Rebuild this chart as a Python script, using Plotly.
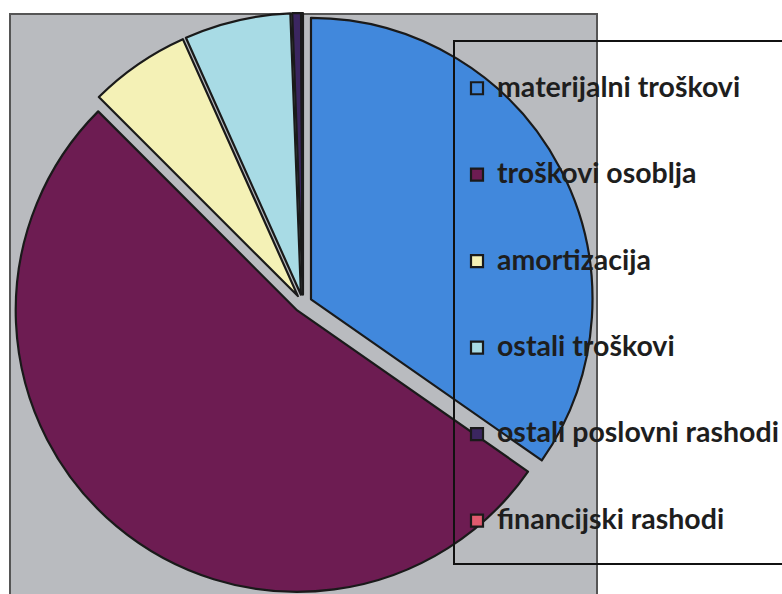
import plotly.graph_objects as go

categories = ["materijalni troškovi", "troškovi osoblja", "amortizacija",
              "ostali troškovi", "ostali poslovni rashodi", "financijski rashodi"]
values = [34.7, 52.8, 5.8, 6.1, 0.5, 0.1]
colors = ["#4188dc", "#6d1c52", "#f4f1b6", "#a8dbe5", "#3b2660", "#e05a6e"]

W, H = 782, 594
LEG_BASE = 21.4   # legend line metric, sets item spacing
LEG_TXT = 28.5    # visible legend text size

labels = ["<br><span style='font-size:%spx'>%s</span><br> " % (LEG_TXT, c) for c in categories]


def px(x):
    return x / W


def py(y):
    return (H - y) / H


fig = go.Figure()
fig.add_trace(go.Pie(
    labels=labels,
    values=values,
    sort=False,
    direction="clockwise",
    rotation=0,
    pull=[0.032] * len(values),
    textinfo="none",
    hoverinfo="percent",
    marker=dict(colors=colors, line=dict(color="#1a1a1a", width=2.2)),
    domain=dict(x=[px(12.5), px(593.5)], y=[0, py(13)]),
))

fig.update_layout(
    width=W, height=H,
    margin=dict(l=0, r=0, t=0, b=0, autoexpand=False),
    paper_bgcolor="white",
    plot_bgcolor="white",
    showlegend=True,
    legend=dict(
        x=px(457), y=py(40), xanchor="left", yanchor="top",
        bgcolor="rgba(0,0,0,0)", borderwidth=0,
        font=dict(family="Lato, 'Open Sans', sans-serif", size=LEG_BASE, color="#1e1e1e", weight="bold"),
        traceorder="normal",
    ),
    shapes=[
        dict(type="rect", xref="paper", yref="paper", layer="below",
             x0=px(10), x1=px(597), y0=-0.02, y1=py(14),
             fillcolor="#b9bbbf", line=dict(color="#555", width=2)),
        # legend frame (runs off the right edge as in the original)
        dict(type="rect", xref="paper", yref="paper", layer="above",
             x0=px(454), x1=px(800), y0=py(564), y1=py(41),
             fillcolor="rgba(0,0,0,0)", line=dict(color="#111", width=2)),
    ],
)

fig.write_html(
    "out.html",
    config={"displayModeBar": False},
    post_script="document.body.style.margin='0';document.body.style.overflow='hidden';",
)
